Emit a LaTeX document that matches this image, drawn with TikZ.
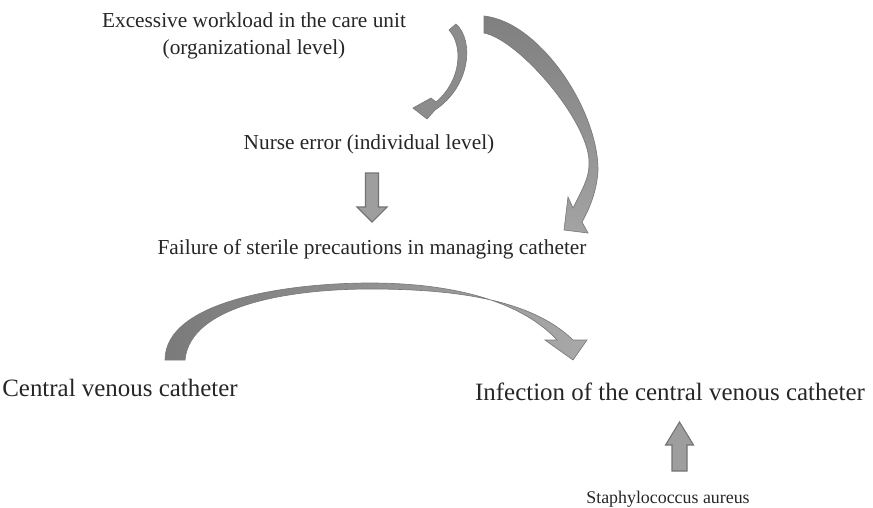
\documentclass[tikz,border=0pt]{standalone}
\usepackage{fontspec}
\setmainfont{Liberation Serif}
\begin{document}
\begin{tikzpicture}[
x=0.75pt,y=-0.75pt,
every node/.style={inner sep=0pt,text=black!85},
smalltext/.style={font=\fontsize{13.4}{15}\selectfont},
midtext/.style={font=\fontsize{16}{19}\selectfont},
bigtext/.style={font=\fontsize{18.7}{22}\selectfont},
blockarrow/.style={draw=black!55,fill=black!38,line width=0.8pt,line join=miter},
curvearrow/.style={draw=black!52,line width=0.5pt,line join=miter}
]
\useasboundingbox (0,0) rectangle (873,507);

% texts
\node[midtext,anchor=base] (exc) at (254,27) {Excessive workload in the care unit};
\node[midtext,anchor=base] (exclevel) at (254,54) {(organizational level)};
\node[midtext,anchor=base] (nurse) at (369,149) {Nurse error (individual level)};
\node[midtext,anchor=base] (fail) at (372,254) {Failure of sterile precautions in managing catheter};
\node[bigtext,anchor=base] (cvc) at (120,396) {Central venous catheter};
\node[bigtext,anchor=base] (inf) at (670,400) {Infection of the central venous catheter};
\node[smalltext,anchor=base] (staph) at (668,503) {Staphylococcus aureus};

% workload -> nurse error
\path[curvearrow,fill=black!45]
  (456,24) .. controls (474,40) and (471,86) .. (435,110)
  -- (427,119) -- (413,108) -- (431,98) -- (436,102)
  .. controls (462,80) and (463,45) .. (449,30) -- cycle;

% workload -> failure
\path[curvearrow,top color=black!50,bottom color=black!36]
  (484,16) .. controls (540,22) and (598,110) .. (598,170)
  .. controls (597,190) and (590,208) .. (582,222)
  -- (588,233) -- (564,230) -- (568,197) -- (573,208)
  .. controls (582,190) and (589,178) .. (589,165)
  .. controls (592,125) and (520,40) .. (484,33) -- cycle;

% nurse error -> failure
\coordinate (nurseout) at (372,173);
\draw[blockarrow] (nurseout) ++(-6.5,0) -- ++(13,0) -- ++(0,34) -- ++(8.5,0)
  -- ++(-15,15) -- ++(-15,-15) -- ++(8.5,0) -- cycle;

% catheter -> infection
\path[curvearrow,left color=black!52,right color=black!34]
  (165,360) .. controls (165,300) and (290,283) .. (370,283)
  .. controls (450,283) and (520,300) .. (557,340)
  -- (545,340) -- (573,360) -- (587,340) -- (573,340)
  .. controls (530,298) and (450,289) .. (370,289)
  .. controls (290,289) and (190,305) .. (185,360) -- cycle;

% staphylococcus -> infection
\coordinate (staphout) at (679.5,471);
\draw[blockarrow] (staphout) ++(-7.5,0) -- ++(15,0) -- ++(0,-26) -- ++(6.5,0)
  -- ++(-14,-23) -- ++(-14,23) -- ++(6.5,0) -- cycle;
\end{tikzpicture}
\end{document}
